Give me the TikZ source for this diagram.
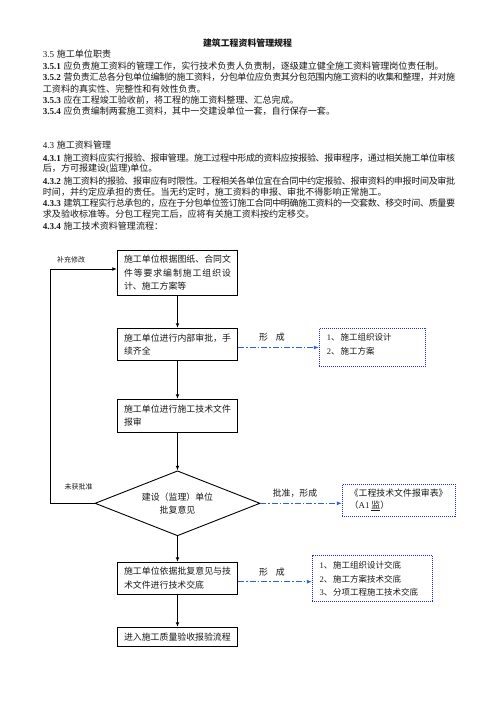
\documentclass[tikz,border=0pt]{standalone}
\usepackage{fontspec}
\setmainfont{Noto Sans CJK SC}
\newfontfamily\lat{Liberation Serif}
\usetikzlibrary{arrows.meta,shapes.geometric}
\definecolor{blueA}{RGB}{30,40,245}
\definecolor{blueB}{RGB}{45,95,225}
\definecolor{ink}{RGB}{25,25,25}
\newcommand\jstend{}
\def\jsta#1{#1\jstb}
\def\jstb#1{\ifx\jstend#1\else\hskip0pt plus 1fill minus 0.4pt#1\expandafter\jstb\fi}
\newcommand\jst[2]{\makebox[#1][s]{\jsta#2\jstend}}
\newcommand\bodyfull[2]{\makebox[412.3pt][s]{{\lat\bfseries #1}\hskip2.6pt\jsta#2\jstend}}
\newcommand\lab[1]{{\lat\bfseries #1}\hskip2.6pt}
\begin{document}
\begin{tikzpicture}[x=1pt,y=-1pt,
  txt/.style={anchor=west,inner sep=0pt,text=ink,font=\fontsize{9.05}{11}\selectfont},
  boxn/.style={draw=black,line width=0.9pt,minimum width=120.4pt,inner xsep=6.7pt,inner ysep=0pt,
     text width=107pt,align=left,text=ink,font=\fontsize{8.9}{13.2}\selectfont},
  dia/.style={draw=black,line width=0.9pt,diamond,shape aspect=2.54,minimum width=165pt,minimum height=65pt,
     inner sep=0pt,align=center,text=ink,font=\fontsize{8.9}{12.7}\selectfont},
  bbox/.style={draw=blueA,line width=1pt,dash pattern=on 1pt off 1pt,inner sep=0pt},
  btxt/.style={anchor=west,inner sep=0pt,align=left,text=ink},
  small/.style={inner sep=0pt,text=ink,font=\fontsize{7}{8}\selectfont},
  mid/.style={inner sep=0pt,text=ink,font=\fontsize{8.9}{10}\selectfont},
  arr/.style={draw=black,line width=0.9pt,-{Latex[length=4.5pt,width=3.8pt]}},
  plain/.style={draw=black,line width=0.9pt},
  dd/.style={draw=blueB,line width=0.8pt,dash pattern=on 6pt off 2pt on 1.5pt off 2pt,
     -{Latex[length=5pt,width=4pt]}}
]
\useasboundingbox (0,0) rectangle (496,702);
\fill[white] (0,0) rectangle (496,702);

% title and body text
\node[inner sep=0pt,text=ink,font=\fontsize{8.9}{10}\selectfont\bfseries] (title) at (247.5,43) {建筑工程资料管理规程};
\node[txt] (l1) at (42.7,54) {{\lat 3.5}\hskip2.6pt 施工单位职责};
\node[txt] (l2) at (42.7,66) {\lab{3.5.1}应负责施工资料的管理工作，实行技术负责人负责制，逐级建立健全施工资料管理岗位责任制。};
\node[txt] (l3) at (42.7,77.3) {\bodyfull{3.5.2}{营负责汇总各分包单位编制的施工资料，分包单位应负责其分包范围内施工资料的收集和整理，并对施}};
\node[txt] (l4) at (42.7,89) {工资料的真实性、完整性和有效性负责。};
\node[txt] (l5) at (42.7,100) {\lab{3.5.3}应在工程竣工验收前，将工程的施工资料整理、汇总完成。};
\node[txt] (l6) at (42.7,111) {\lab{3.5.4}应负责编制两套施工资料，其中一交建设单位一套，自行保存一套。};
\node[txt] (l7) at (42.7,145) {{\lat 4.3}\hskip2.6pt 施工资料管理};
\node[txt] (l8) at (42.7,158) {\bodyfull{4.3.1}{施工资料应实行报验、报审管理。施工过程中形成的资料应按报验、报审程序，通过相关施工单位审核}};
\node[txt] (l9) at (42.7,169) {后，方可报建设{\lat(}监理{\lat)}单位。};
\node[txt] (l10) at (42.7,181) {\bodyfull{4.3.2}{施工资料的报验、报审应有时限性。工程相关各单位宜在合同中约定报验、报审资料的申报时间及审批}};
\node[txt] (l11) at (42.7,192) {时间，并约定应承担的责任。当无约定时，施工资料的申报、审批不得影响正常施工。};
\node[txt] (l12) at (42.7,203) {\bodyfull{4.3.3}{建筑工程实行总承包的，应在于分包单位签订施工合同中明确施工资料的一交套数、移交时间、质量要}};
\node[txt] (l13) at (42.7,214) {求及验收标准等。分包工程完工后，应将有关施工资料按约定移交。};
\node[txt] (l14) at (42.7,226) {\lab{4.3.4}施工技术资料管理流程：};

% flow boxes
\node[boxn,minimum height=45.3pt] (b1) at (177.5,272.65)
  {\jst{107pt}{施工单位根据图纸、合同文}\\\jst{107pt}{件等要求编制施工组织设}\\计、施工方案等};
\node[boxn,minimum height=32.4pt] (b2) at (177.5,344.5)
  {\jst{107pt}{施工单位进行内部审批，手}\\续齐全};
\node[boxn,minimum height=33pt] (b3) at (177.5,415.8)
  {\jst{107pt}{施工单位进行施工技术文件}\\报审};
\node[dia] (d) at (177.5,503.3) {建设（监理）单位\\批复意见};
\node[boxn,minimum height=31.7pt] (b4) at (177.5,578.15)
  {\jst{107pt}{施工单位依据批复意见与技}\\术文件进行技术交底};
\node[boxn,minimum height=18.7pt] (b5) at (177.5,636.65) {进入施工质量验收报验流程};

% blue boxes
\node[bbox,minimum width=106.4pt,minimum height=38.4pt] (n1) at (372.5,347.5) {};
\node[btxt,font=\fontsize{8.5}{14.4}\selectfont] (t1) at (326.7,344.5)
  {{\lat 1}、\hskip1pt 施工组织设计\\{\lat 2}、\hskip1pt 施工方案};
\node[bbox,minimum width=112.7pt,minimum height=32pt] (n2) at (398.65,500) {};
\node[btxt,font=\fontsize{8.9}{11.7}\selectfont] (t2) at (349.5,500.2)
  {《工程技术文件报审表》\\（{\lat A1} \underline{监}）};
\node[bbox,minimum width=120.4pt,minimum height=45.3pt] (n3) at (372.5,578.35) {};
\node[btxt,font=\fontsize{8.5}{13.5}\selectfont] (t3) at (319.3,578.8)
  {{\lat 1}、\hskip1pt 施工组织设计交底\\{\lat 2}、\hskip1pt 施工方案技术交底\\{\lat 3}、\hskip1pt 分项工程施工技术交底};

% labels
\node[small] (s1) at (71,260) {补充修改};
\node[small] (s2) at (78.5,486.7) {未获批准};
\node[mid] (f1) at (272,336.7) {形\hskip8pt 成};
\node[mid] (f2) at (295,493.3) {批准，形成};
\node[mid] (f3) at (272,571.7) {形\hskip8pt 成};

% connectors
\draw[arr] (b1) -- (b2);
\draw[arr] (b2) -- (b3);
\draw[arr] (b3) -- (d);
\draw[arr] (d) -- (b4);
\draw[arr] (b4) -- (b5);
\coordinate (fb) at (50.7,269);
\draw[plain] (d.west) -| (fb);
\draw[arr] (fb) -- (b1.west |- fb);
\coordinate (c4) at (0,581.7);
\draw[dd] (b2.east |- n1) -- (n1.west);
\draw[dd] (d.east) -- (n2.west |- d.east);
\draw[dd] (b4.east |- c4) -- (n3.west |- c4);
\end{tikzpicture}
\end{document}
